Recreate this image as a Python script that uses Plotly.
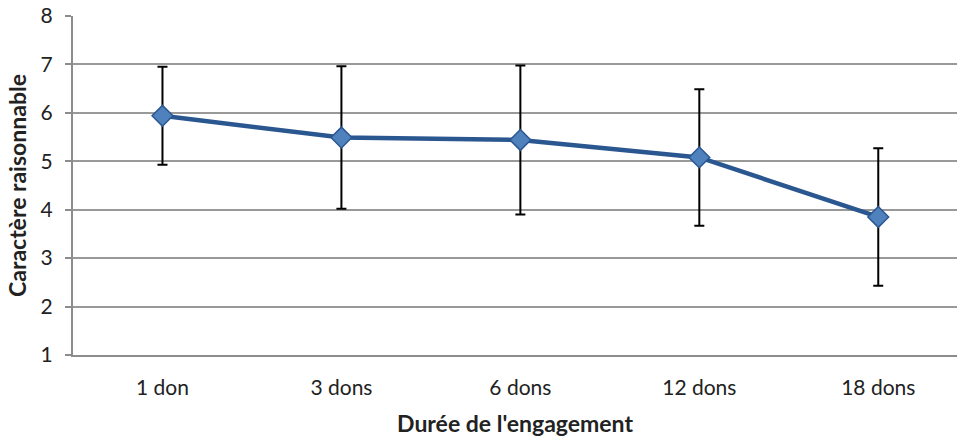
import plotly.graph_objects as go

categories = ["1 don", "3 dons", "6 dons", "12 dons", "18 dons"]
means = [5.94, 5.49, 5.44, 5.08, 3.85]
errors = [1.01, 1.47, 1.54, 1.41, 1.42]
y_ticks = [1, 2, 3, 4, 5, 6, 7, 8]

font_family = "Lato, Open Sans, sans-serif"

fig = go.Figure()
fig.add_trace(go.Scatter(
    x=list(range(len(categories))),
    y=means,
    mode="lines+markers",
    line=dict(color="#2A5790", width=4.5),
    marker=dict(symbol="diamond", size=16, color="#4F81BD",
                line=dict(color="#2A5790", width=1.5)),
    error_y=dict(type="data", array=errors, visible=True,
                 color="black", thickness=2, width=5),
    showlegend=False,
))

fig.update_layout(
    width=957, height=439,
    margin=dict(l=73, r=0, t=16, b=84),
    paper_bgcolor="white", plot_bgcolor="white",
    font=dict(family=font_family, color="#222", size=21),
    xaxis=dict(
        tickmode="array", tickvals=list(range(len(categories))), ticktext=categories,
        range=[-0.5, 4.44], showgrid=False, zeroline=False,
        showline=True, linecolor="#8c8c8c", linewidth=2,
        ticks="", ticklabelstandoff=13, tickfont=dict(size=21),
        title=dict(text="<b>Durée de l'engagement</b>", font=dict(size=23), standoff=18),
    ),
    yaxis=dict(
        range=[1, 8], tickvals=y_ticks, showgrid=True, gridcolor="#999999", gridwidth=2,
        zeroline=False, showline=True, linecolor="#8c8c8c", linewidth=2,
        ticks="outside", ticklen=6, tickcolor="#8c8c8c", tickwidth=2,
        ticklabelstandoff=8, tickfont=dict(size=21),
        title=dict(text="<b>Caractère raisonnable</b>", font=dict(size=23), standoff=8),
    ),
)

fig.write_html("out.html")
